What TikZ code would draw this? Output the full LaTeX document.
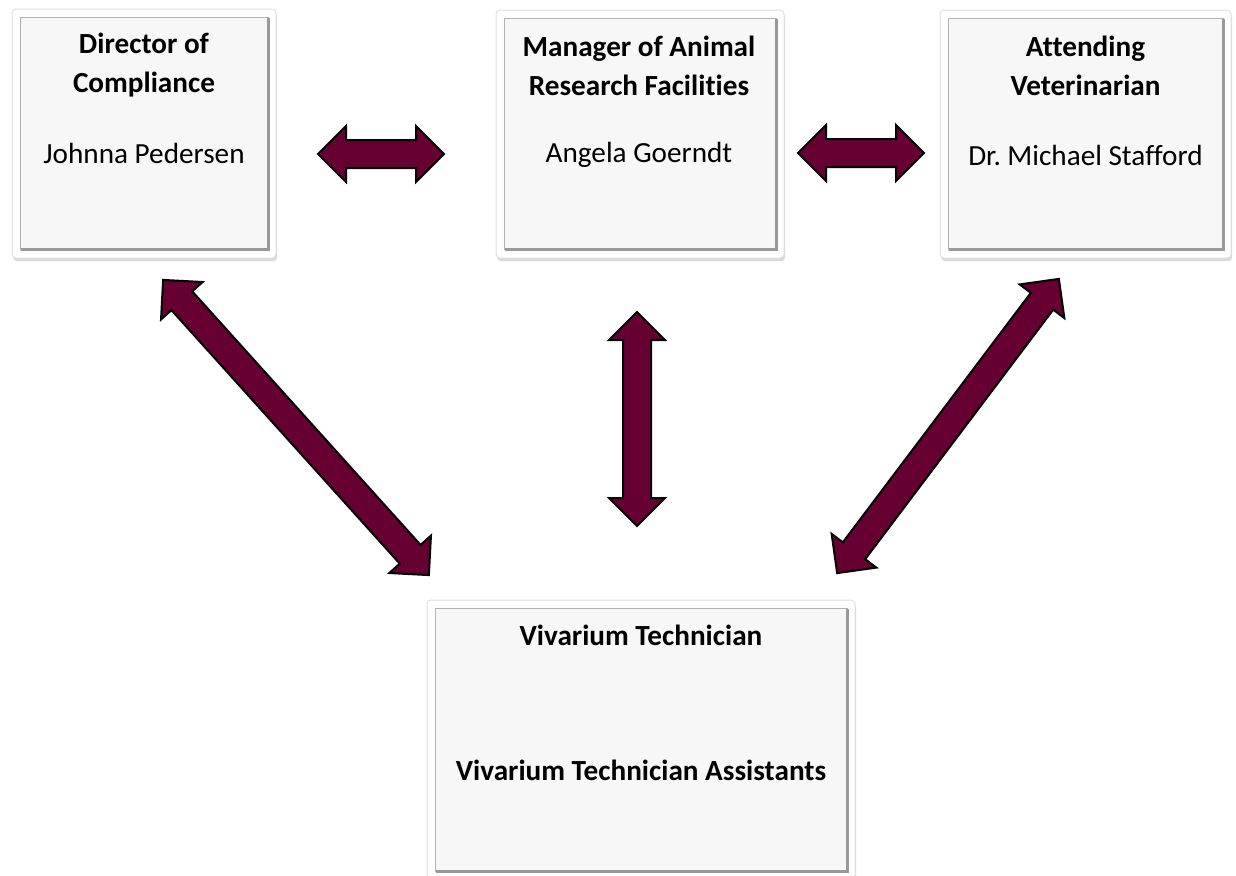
\documentclass[tikz,border=0pt]{standalone}
\usepackage{fontspec}
\setmainfont{Carlito}[Ligatures=NoCommon]
\frenchspacing
\usetikzlibrary{shapes.arrows,shadows}
\definecolor{Maroon}{RGB}{102,0,51}
\definecolor{Face}{RGB}{247,247,247}

\tikzset{
  orgframe/.style={rectangle,draw=black!12,fill=white,rounded corners=2pt,line width=0.5pt,
    drop shadow={shadow xshift=0.6pt,shadow yshift=-1.6pt,opacity=0.25,fill=black!60}},
  orgface/.style={draw=black!30,fill=Face,line width=0.6pt},
  orgedge/.style={draw=black!40,line width=1.4pt},
  titletext/.style={font=\bfseries\fontsize{14.6}{19.5}\selectfont,align=center,inner sep=0pt},
  nametext/.style={font=\fontsize{14.6}{18}\selectfont,inner sep=0pt},
  linkarrow/.style={double arrow,draw=black,line width=1pt,fill=Maroon,inner sep=6.5pt,
    double arrow head extend=7pt}
}

\begin{document}
\begin{tikzpicture}[x=0.5pt,y=-0.5pt,line join=miter]
\path[use as bounding box] (0,0) rectangle (1236,875);
% boxes
\node[orgframe,minimum width=132pt,minimum height=124.5pt] (dir) at (144,133.5) {};
\node[orgframe,minimum width=144pt,minimum height=124pt] (man) at (640,134) {};
\node[orgframe,minimum width=145.5pt,minimum height=124pt] (vet) at (1085.5,134) {};
\node[orgframe,minimum width=214pt,minimum height=140pt] (viv) at (641,740) {};
\foreach \b in {dir,man,vet,viv} {
  \draw[orgface] ([shift={(9,9)}]\b.north west) rectangle ([shift={(-8,-9)}]\b.south east);
  \draw[orgedge] ([shift={(9,-9)}]\b.south west) -- ([shift={(-8,-9)}]\b.south east)
    -- ([shift={(-8,9)}]\b.north east);
}
% texts
\node[titletext] (dirtitle) at (144,65) {Director of\\Compliance};
\node[nametext] (dirname) at (144,153) {Johnna Pedersen};
\node[titletext] (mantitle) at (639,66) {Manager of Animal\\Research Facilities};
\node[nametext] (manname) at (639,155) {Angela Goerndt};
\node[titletext] (vettitle) at (1085.5,66) {Attending\\Veterinarian};
\node[nametext] (vetname) at (1085.5,155) {Dr. Michael Stafford};
\node[titletext] (vivtitle) at (641,635) {Vivarium Technician};
\node[titletext] (vivstaff) at (641,770) {Vivarium Technician Assistants};
% arrows
\node[linkarrow,minimum height=63pt] (dirman) at (381,154) {};
\node[linkarrow,minimum height=63pt] (manvet) at (861,153) {};
\node[linkarrow,minimum height=107pt,rotate=90] (manviv) at (637,419) {};
\node[linkarrow,minimum height=198.6pt,rotate=-48] (dirviv) at (296,427.5) {};
\node[linkarrow,minimum height=184.2pt,rotate=53] (vetviv) at (948,426) {};
\end{tikzpicture}
\end{document}
